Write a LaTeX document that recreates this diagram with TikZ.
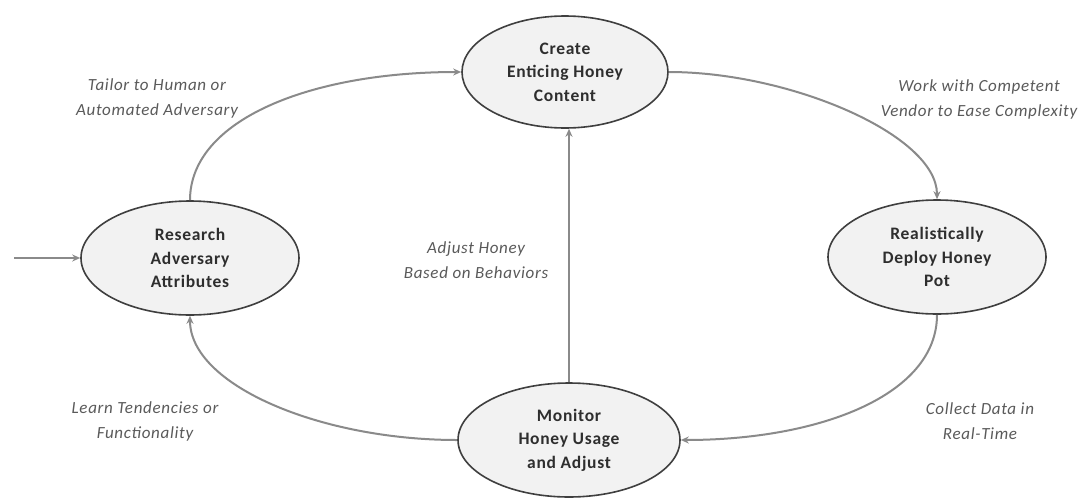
\documentclass[tikz,border=0pt]{standalone}
\usepackage{fontspec}
\setmainfont{Carlito}[LetterSpace=4]
\usetikzlibrary{shapes.geometric,arrows.meta}
\definecolor{ringfill}{HTML}{F2F2F2}
\definecolor{ringline}{HTML}{3F3F3F}
\definecolor{flow}{HTML}{8A8A8A}
\definecolor{notetext}{HTML}{5A5A5A}
\definecolor{steptext}{HTML}{2E2E2E}
\begin{document}
\begin{tikzpicture}[x=1pt,y=-1pt,
  stage/.style={ellipse, draw=ringline, line width=1.6pt, fill=ringfill,
    minimum width=218pt, minimum height=114pt, inner sep=0pt, align=center,
    text=steptext, font=\fontsize{17.5}{23.5}\selectfont\bfseries},
  note/.style={align=center, text=notetext, font=\fontsize{17}{25}\selectfont\itshape},
  flowline/.style={draw=flow, line width=2pt, -{Stealth[length=8pt,width=7pt]}}]
\useasboundingbox (0,0) rectangle (1087,498);
\fill[white] (0,0) rectangle (1087,498);

% process stages
\node[stage, minimum width=206pt, minimum height=112pt] (create) at (565,72) {Create\\Enticing Honey\\Content};
\node[stage] (research) at (190,258) {Research\\Adversary\\Attributes};
\node[stage] (deploy) at (937,257) {Realistically\\Deploy Honey\\Pot};
\node[stage, minimum width=222pt] (monitor) at (569,440) {Monitor\\Honey Usage\\and Adjust};

% entry point
\coordinate (entry) at (14,258);
\draw[flowline] (entry) -- (research.west);

% cycle connectors
\draw[flowline] (research.north) .. controls (190,120) and (310,72) .. (create.west);
\draw[flowline] (create.east) .. controls (790,72) and (937,135) .. (deploy.north);
\draw[flowline] (deploy.south) .. controls (937,395) and (820,440) .. (monitor.east);
\draw[flowline] (monitor.west) .. controls (320,440) and (190,385) .. (research.south);
\draw[flowline] (monitor.north) -- (monitor.north |- create.south);

% connector notes
\node[note] (n1) at (157,98) {Tailor to Human or\\Automated Adversary};
\node[note] (n2) at (979,99) {Work with Competent\\Vendor to Ease Complexity};
\node[note] (n3) at (476,260) {Adjust Honey\\Based on Behaviors};
\node[note] (n4) at (145,421) {Learn Tendencies or\\Functionality};
\node[note] (n5) at (980,421) {Collect Data in\\Real-Time};
\end{tikzpicture}
\end{document}
